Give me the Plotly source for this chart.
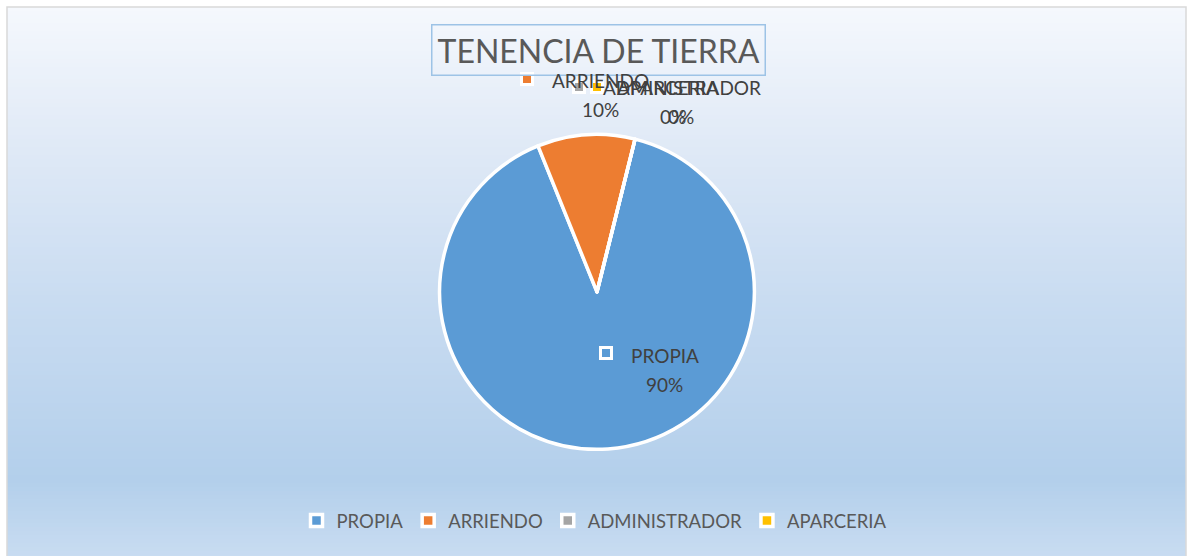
import plotly.graph_objects as go

# ---- data ----
categories = ["PROPIA", "ARRIENDO", "ADMINISTRADOR", "APARCERIA"]
values = [90, 10, 0, 0]
colors = ["#5B9BD5", "#ED7D31", "#A5A5A5", "#FFC000"]
title_text = "TENENCIA DE TIERRA"

W, H = 1188, 556
FONT = "Lato, 'Open Sans', sans-serif"

def px(x):
    return x / W

def py(y):
    return 1 - y / H

total = sum(values)
pcts = [round(v / total * 100) for v in values]

fig = go.Figure()
fig.add_trace(go.Pie(
    labels=categories,
    values=values,
    marker=dict(colors=colors, line=dict(color="white", width=3.5)),
    sort=False,
    direction="clockwise",
    rotation=14,
    textinfo="none",
    hoverinfo="label+percent",
    domain=dict(x=[0.3700, 0.6350], y=[0.190, 0.760]),
    showlegend=True,
))

# ---- gradient background ----
stops = [(7, (0xF5, 0xF8, 0xFD)), (150, (0xDF, 0xE9, 0xF6)), (300, (0xC9, 0xDC, 0xF1)),
         (480, (0xB3, 0xCF, 0xEB)), (556, (0xC8, 0xDC, 0xF1))]

def col_at(y):
    for (y0, c0), (y1, c1) in zip(stops[:-1], stops[1:]):
        if y0 <= y <= y1:
            t = (y - y0) / (y1 - y0)
            return "rgb(%d,%d,%d)" % tuple(round(a + (b - a) * t) for a, b in zip(c0, c1))
    return "rgb(%d,%d,%d)" % stops[-1][1]

shapes = []
step = 4
y = 7
while y < H:
    y2 = min(y + step, H)
    shapes.append(dict(type="rect", xref="paper", yref="paper", layer="below",
                       x0=px(7), x1=px(1186), y0=py(y2), y1=py(y),
                       fillcolor=col_at((y + y2) / 2), line=dict(width=0)))
    y = y2
# outer border
shapes.append(dict(type="rect", xref="paper", yref="paper", layer="below",
                   x0=px(7), x1=px(1186), y0=py(H + 2), y1=py(7),
                   fillcolor="rgba(0,0,0,0)", line=dict(color="#D9D9D9", width=1.5)))

annotations = []
# title with box
annotations.append(dict(text=title_text, x=px(598), y=py(50), xref="paper", yref="paper",
                        showarrow=False, font=dict(family=FONT, size=32, color="#595959"),
                        bordercolor="#9DC3E6", borderwidth=1.5, borderpad=5,
                        xanchor="center", yanchor="middle"))

# data labels: (category index, key centre x, key centre y, name centre x, name y, pct centre x)
label_pos = [
    (0, 606, 353, 665, 355, 664),
    (1, 527, 79, 600, 80, 600),
    (2, 579, 87, 682, 87, 673),
    (3, 597, 87, 668, 87, 681),
]
for i, kx, ky, tx, ty, pxc in label_pos:
    shapes.append(dict(type="rect", xref="paper", yref="paper",
                       x0=px(kx - 7), x1=px(kx + 7), y0=py(ky + 7), y1=py(ky - 7),
                       fillcolor="white", line=dict(width=0)))
    shapes.append(dict(type="rect", xref="paper", yref="paper",
                       x0=px(kx - 4), x1=px(kx + 4), y0=py(ky + 4), y1=py(ky - 4),
                       fillcolor=colors[i], line=dict(width=0)))
    annotations.append(dict(text=categories[i], x=px(tx), y=py(ty), xref="paper", yref="paper",
                            showarrow=False, font=dict(family=FONT, size=19, color="#404040"),
                            xanchor="center", yanchor="middle"))
    annotations.append(dict(text="%d%%" % pcts[i], x=px(pxc),
                            y=py(ty + 29), xref="paper", yref="paper",
                            showarrow=False, font=dict(family=FONT, size=19, color="#404040"),
                            xanchor="center", yanchor="middle"))

fig.update_layout(
    width=W, height=H,
    margin=dict(l=0, r=0, t=0, b=0),
    paper_bgcolor="white",
    plot_bgcolor="rgba(0,0,0,0)",
    shapes=shapes,
    annotations=annotations,
    legend=dict(orientation="h", x=0.5, xanchor="center", y=py(521), yanchor="middle",
                font=dict(family=FONT, size=18.5, color="#595959"),
                bgcolor="rgba(0,0,0,0)", itemclick=False),
    hovermode=False,
)

fig.write_html("out.html", config={"displayModeBar": False},
               post_script="document.body.style.margin='0';")
